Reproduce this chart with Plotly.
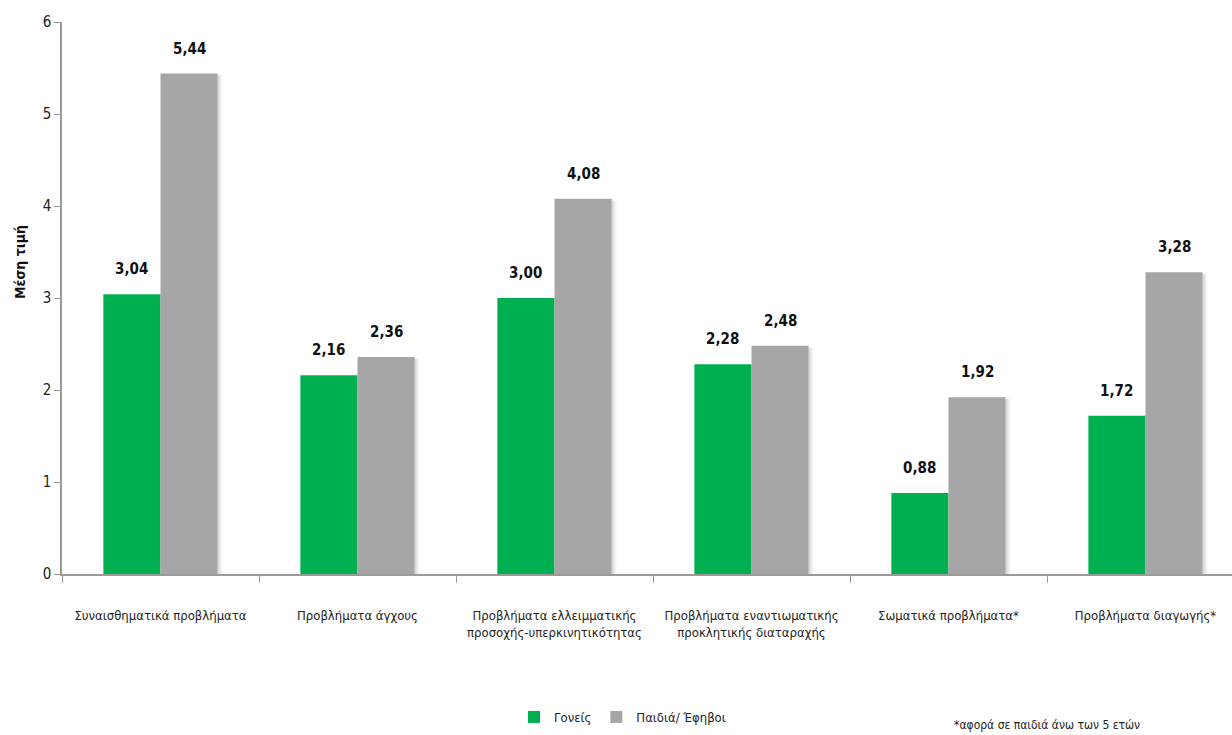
import plotly.graph_objects as go

# Category labels (two-line labels use <br>)
categories = [
    "Συναισθηματικά προβλήματα",
    "Προβλήματα άγχους",
    "Προβλήματα ελλειμματικής<br>προσοχής-υπερκινητικότητας",
    "Προβλήματα εναντιωματικής<br>προκλητικής διαταραχής",
    "Σωματικά προβλήματα*",
    "Προβλήματα διαγωγής*",
]
parents = [3.04, 2.16, 3.00, 2.28, 0.88, 1.72]
children = [5.44, 2.36, 4.08, 2.48, 1.92, 3.28]
y_ticks = [0, 1, 2, 3, 4, 5, 6]

GREEN = "#00B050"
GREY = "#A6A6A6"
FONT = "DejaVu Sans Condensed, sans-serif"

W, H = 1232, 735
ML, MT, MB = 62, 22, 161
plot_w = W - ML
plot_h = H - MT - MB
cat_px = 197.0
x_range = [-0.5, -0.5 + plot_w / cat_px]

fig = go.Figure()
fig.add_trace(go.Bar(name="Γονείς", x=categories, y=parents,
                     marker=dict(color=GREEN, line=dict(width=0))))
fig.add_trace(go.Bar(name="Παιδιά/ Έφηβοι", x=categories, y=children,
                     marker=dict(color=GREY, line=dict(width=0))))

bar_w = (1 - 0.42) / 2
annotations = []
shapes = []
for i, cat in enumerate(categories):
    for val, sign in ((parents[i], -1), (children[i], 1)):
        annotations.append(dict(
            x=cat, y=val, xref="x", yref="y",
            text="<b>" + f"{val:.2f}".replace(".", ",") + "</b>",
            showarrow=False, xshift=sign * bar_w * cat_px / 2, yshift=14,
            yanchor="bottom", font=dict(family=FONT, size=15, color="#111"),
        ))
    # soft drop shadow on the right of each grey bar
    for k, alpha in enumerate((0.16, 0.09, 0.04)):
        x0 = i + bar_w + k * 1.6 / cat_px
        shapes.append(dict(
            type="rect", xref="x", yref="y", layer="below",
            x0=x0, x1=x0 + 1.6 / cat_px, y0=0, y1=children[i] - 0.02,
            line=dict(width=0), fillcolor=f"rgba(0,0,0,{alpha})",
        ))

# y-axis title
annotations.append(dict(
    text="<b>Μέση τιμή</b>", textangle=-90, showarrow=False,
    xref="paper", yref="paper", x=(20 - ML) / plot_w, y=(H - MB - 262) / plot_h,
    xanchor="center", yanchor="middle", font=dict(family=FONT, size=14, color="#111"),
))
# footnote
annotations.append(dict(
    text="*αφορά σε παιδιά άνω των 5 ετών", showarrow=False,
    xref="paper", yref="paper", x=(952 - ML) / plot_w, y=(H - MB - 725) / plot_h,
    xanchor="left", yanchor="middle", font=dict(family=FONT, size=12, color="#222"),
))

fig.update_layout(
    width=W, height=H,
    margin=dict(l=ML, r=0, t=MT, b=MB, autoexpand=False),
    paper_bgcolor="white", plot_bgcolor="white",
    barmode="group", bargap=0.42, bargroupgap=0,
    font=dict(family=FONT, color="#222"),
    showlegend=True,
    legend=dict(orientation="h", x=(514 - ML) / plot_w, y=(H - MB - 717) / plot_h,
                xanchor="left", yanchor="middle", font=dict(family=FONT, size=13, color="#222"),
                itemwidth=30, tracegroupgap=0),
    annotations=annotations,
    shapes=shapes,
)
fig.update_xaxes(
    range=x_range, showgrid=False, showline=True, linecolor="#9a9a9a", linewidth=1.5,
    ticks="outside", ticklen=7, tickcolor="#9a9a9a", tickson="boundaries",
    tickangle=0, automargin=False,
    tickfont=dict(family=FONT, size=13, color="#222"), ticklabelstandoff=29,
)
fig.update_yaxes(
    range=[0, 6], tickvals=y_ticks, showgrid=False, zeroline=False,
    showline=True, linecolor="#9a9a9a", linewidth=1.5, automargin=False,
    ticks="outside", ticklen=6, tickcolor="#9a9a9a",
    tickfont=dict(family=FONT, size=15, color="#222"),
)

fig.write_html("out.html")
